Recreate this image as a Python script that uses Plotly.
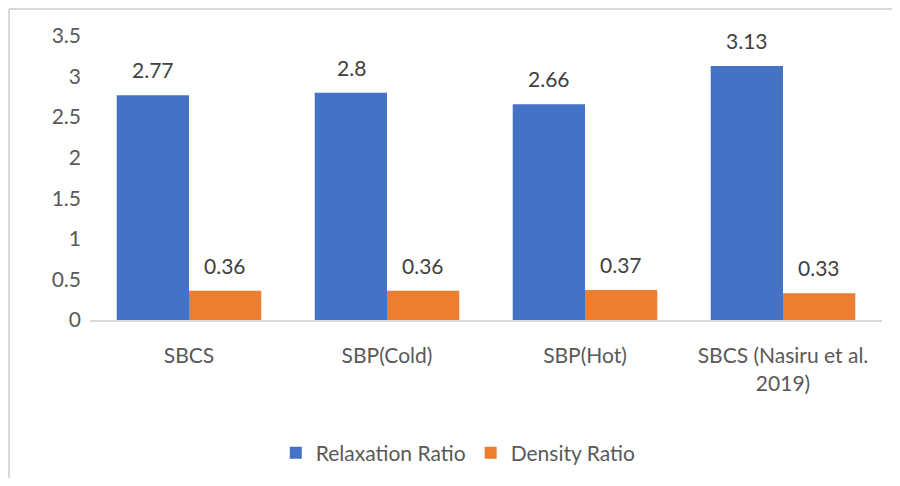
import plotly.graph_objects as go

# ── Data ─────────────────────────────────────────────
CATEGORIES = ["SBCS", "SBP(Cold)", "SBP(Hot)", "SBCS (Nasiru et al.<br>2019)"]
RELAXATION = [2.77, 2.8, 2.66, 3.13]
DENSITY    = [0.36, 0.36, 0.37, 0.33]

BLUE   = "#4472C4"
ORANGE = "#ED7D31"
FONT   = "Lato, sans-serif"
GREY   = "#595959"
FS     = 21

fig = go.Figure()
fig.add_trace(go.Bar(x=CATEGORIES, y=RELAXATION, name="Relaxation Ratio",
                     marker=dict(color=BLUE, line=dict(width=0))))
fig.add_trace(go.Bar(x=CATEGORIES, y=DENSITY, name="Density Ratio",
                     marker=dict(color=ORANGE, line=dict(width=0))))

# data labels above each bar
for vals, shift in ((RELAXATION, -36), (DENSITY, 36)):
    for c, v in zip(CATEGORIES, vals):
        fig.add_annotation(x=c, y=v, text=f"{v:g}", showarrow=False,
                           xshift=shift, yshift=11, yanchor="bottom",
                           font=dict(size=FS, color="#404040", family=FONT))

# chart frame: light grey top and left edges only
left, top = -81 / 792, 1 + 27 / 284
frame = dict(color="#d9d9d9", width=2)
fig.add_shape(type="line", xref="paper", yref="paper",
              x0=left, x1=802 / 792, y0=top, y1=top, line=frame, layer="below")
fig.add_shape(type="line", xref="paper", yref="paper",
              x0=left, x1=left, y0=top, y1=-0.8, line=frame, layer="below")

fig.update_layout(
    width=884, height=470,
    paper_bgcolor="white", plot_bgcolor="white",
    font=dict(family=FONT, size=FS, color=GREY),
    margin=dict(l=82, r=10, t=28, b=158),
    barmode="group", bargap=0.27, bargroupgap=0,
    xaxis=dict(showgrid=False, showline=True, linecolor="#d9d9d9", linewidth=2,
               ticks="", tickfont=dict(size=FS, color=GREY),
               ticklabelstandoff=16),
    yaxis=dict(range=[0, 3.5], dtick=0.5, showgrid=False, zeroline=False,
               showline=False, ticks="", tickfont=dict(size=FS, color=GREY),
               ticklabelstandoff=8),
    legend=dict(orientation="h", x=0.465, xanchor="center",
                yref="container", y=0.053, yanchor="middle",
                font=dict(size=FS, color=GREY), itemwidth=30),
)

fig.write_html("out.html")
